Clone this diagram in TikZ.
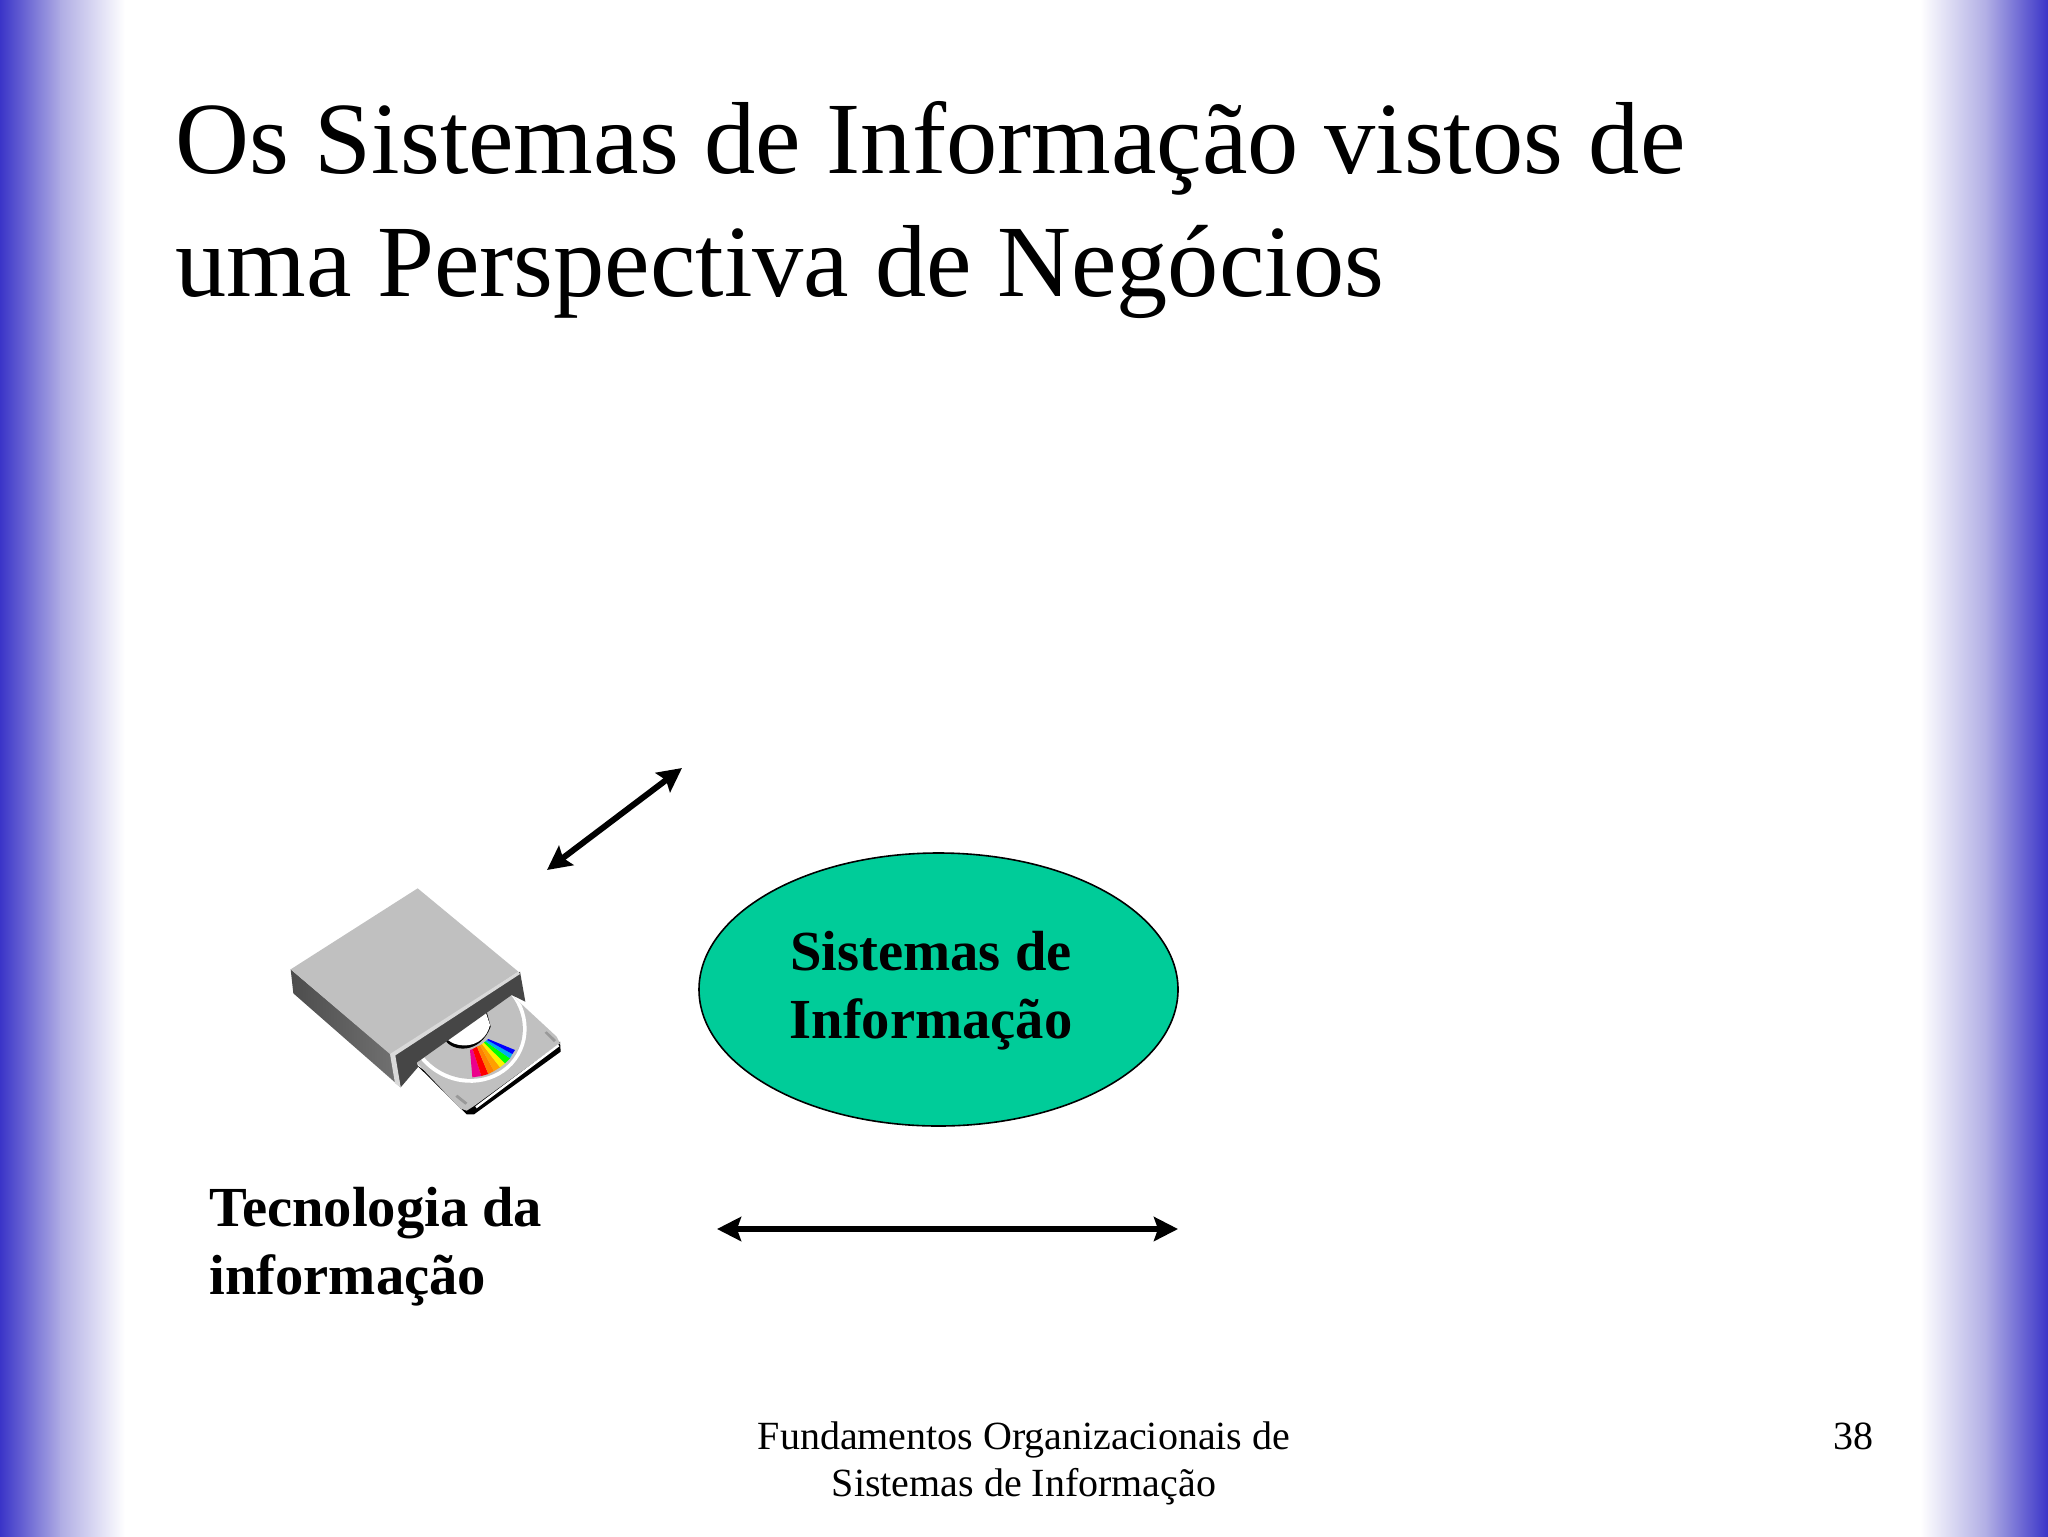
\documentclass[tikz,border=0pt]{standalone}
\usepackage{fontspec}
\setmainfont{Liberation Serif}
\usetikzlibrary{arrows.meta,shapes.geometric}
\definecolor{bandblue}{RGB}{58,52,200}
\definecolor{bandmid}{RGB}{175,172,228}
\definecolor{teal}{RGB}{0,204,153}
\definecolor{topgray}{RGB}{192,192,192}
\definecolor{frontgray}{RGB}{70,70,70}
\tikzset{
  titletext/.style={anchor=base west,inner sep=0pt,font=\fontsize{51.2}{51.2}\selectfont},
  boldtext/.style={inner sep=0pt,font=\fontsize{28.3}{28.3}\selectfont\bfseries},
  foottext/.style={anchor=base,inner sep=0pt,font=\fontsize{20}{20}\selectfont},
  dbl/.style={line width=3pt,{Stealth[length=12pt,width=12pt,inset=2pt]}-{Stealth[length=12pt,width=12pt,inset=2pt]}},
}
\begin{document}
\begin{tikzpicture}[x=0.5pt,y=-0.5pt]
\useasboundingbox (0,0) rectangle (2048,1536);
\fill[white] (0,0) rectangle (2048,1536);
\shade[left color=bandblue,right color=bandmid] (0,0) rectangle (61,1536);
\shade[left color=bandmid,right color=white] (60,0) rectangle (125,1536);
\shade[left color=white,right color=bandmid] (1920,0) rectangle (1988,1536);
\shade[left color=bandmid,right color=bandblue] (1987,0) rectangle (2048,1536);

\node[titletext] (t1) at (175,173) {Os Sistemas de Informação vistos de};
\node[titletext] (t2) at (175,296) {uma Perspectiva de Negócios};

\node[draw=black,line width=0.8pt,fill=teal,ellipse,minimum width=239.5pt,minimum height=136.5pt,inner sep=0pt] (si) at (938.5,989.5) {};
\node[boldtext,anchor=base] (s1) at (931,970) {Sistemas de};
\node[boldtext,anchor=base] (s2) at (931,1038) {Informação};
\node[boldtext,anchor=base west] (ti1) at (209,1226) {Tecnologia da};
\node[boldtext,anchor=base west] (ti2) at (209,1294) {informação};

\coordinate (a1) at (547,870);
\coordinate (a2) at (682,768);
\coordinate (b1) at (717,1229);
\coordinate (b2) at (1178,1229);
\draw[dbl] (a1) -- (a2);
\draw[dbl] (b1) -- (b2);

\node[foottext] (f1) at (1024,1449) {Fundamentos Organizacionais de};
\node[foottext] (f2) at (1024,1496) {Sistemas de Informação};
\node[foottext] (f3) at (1853,1449) {38};

\begin{scope}[shift={(270,870)},x=0.16667pt,y=-0.16667pt]
  % tray
  \fill[black] (440,585) -- (590,733) -- (612,733) -- (872,545) -- (870,515) -- (600,700) -- cycle;
  \fill[topgray] (440,578) -- (725,375) -- (860,500) -- (870,520) -- (612,708) -- (590,722) -- (570,715) -- cycle;
  \draw[white,line width=1.2pt] (618,712) -- (866,526);
  \fill[gray!80] (824,488) -- (830,484) -- (858,510) -- (852,516) -- cycle;
  \fill[gray!80] (556,680) -- (562,674) -- (592,698) -- (586,704) -- cycle;
  % disc
  \begin{scope}
    \clip (440,578) -- (725,375) -- (860,500) -- (870,520) -- (612,712) -- (570,715) -- cycle;
    \fill[white,rotate around={-30:(590,465)}] (590,465) ellipse [x radius=183,y radius=170];
    \fill[topgray,rotate around={-30:(590,465)}] (590,465) ellipse [x radius=172,y radius=158];
  \end{scope}
  % rainbow
  \fill[magenta]      (600,540) -- (608,537) -- (634,618) -- (607,622) -- cycle;
  \fill[red]          (608,537) -- (621,530) -- (655,612) -- (634,618) -- cycle;
  \fill[orange]       (621,530) -- (630,526) -- (672,603) -- (655,612) -- cycle;
  \fill[orange!75!yellow] (630,526) -- (636,522) -- (690,592) -- (672,603) -- cycle;
  \fill[yellow]       (636,522) -- (642,518) -- (705,580) -- (690,592) -- cycle;
  \fill[green]        (642,518) -- (646,514) -- (720,565) -- (705,580) -- cycle;
  \fill[cyan]         (646,514) -- (651,510) -- (727,552) -- (720,565) -- cycle;
  \fill[blue]         (651,510) -- (655,507) -- (735,540) -- (727,552) -- cycle;
  % hub
  \fill[black] (526,510) .. controls (545,545) and (630,555) .. (662,470) -- (650,425) -- cycle;
  \fill[white] (526,500) .. controls (545,535) and (640,545) .. (660,465) -- (645,420) -- cycle;
  % body
  \shade[left color=black!70,right color=black!55] (62,298) -- (372,560) -- (392,652) -- (70,370) -- cycle;
  \fill[frontgray] (372,552) -- (750,305) -- (766,395) -- (725,375) -- (440,578) -- (445,590) -- (392,652) -- cycle;
  \fill[topgray] (62,298) -- (443,55) -- (745,305) -- (372,550) -- (360,552) -- cycle;
  \fill[gray!30] (360,552) -- (745,305) -- (750,312) -- (376,556) -- (392,652) -- (375,640) -- cycle;
\end{scope}
\end{tikzpicture}
\end{document}
